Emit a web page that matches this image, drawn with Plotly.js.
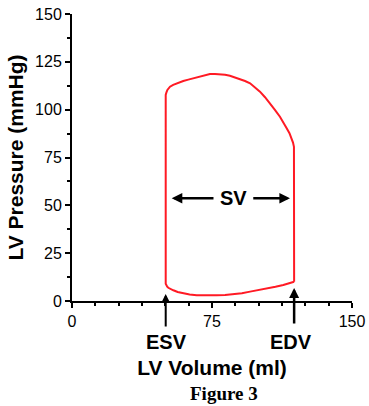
<!DOCTYPE html>
<html>
<head>
<meta charset="utf-8">
<script src="https://cdn.plot.ly/plotly-3.0.1.min.js"></script>
<style>html,body{margin:0;padding:0;background:#fff;}#chart{width:369px;height:406px;}</style>
</head>
<body>
<div id="chart"></div>
<script>
// LV pressure-volume loop
const volume = [119, 119, 118.9, 118.4, 117.7, 116.5, 115.0, 113.3, 111.4, 108.8, 106.1, 103.4, 100.7, 98.0, 95.4, 92.7, 90.0, 87.3, 84.6, 82.0, 79.3, 76.6, 73.9, 72.1, 70.3, 67.6, 65.0, 62.3, 59.6, 57.8, 56.1, 54.2, 52.5, 51.6, 51.1, 50.6, 50.2,
                50.2, 50.5, 51.0, 51.6, 52.8, 54.3, 56.6, 59.6, 63.0, 66.8, 72.0, 77.5, 82.0, 86.4, 91.0, 95.4, 100.0, 104.3, 109.0, 113.2, 116.5, 119];
const pressure = [10.1, 78.0, 80.6, 82.8, 85.0, 87.7, 90.3, 93.2, 96.3, 99.8, 103.3, 106.5, 109.4, 111.8, 113.8, 115.0, 115.9, 116.9, 117.7, 118.2, 118.6, 118.7, 118.6, 118.2, 117.7, 117.1, 116.4, 115.7, 115.0, 114.4, 113.8, 113.0, 112.0, 111.2, 110.3, 109.1, 107.7,
                  9.0, 8.1, 7.5, 6.9, 6.2, 5.6, 4.7, 4.0, 3.4, 3.0, 2.9, 3.0, 3.2, 3.5, 4.1, 4.9, 5.7, 6.6, 7.5, 8.4, 9.2, 10.1];
const esv = 50.2;
const edv = 119;
const svLevel = 53.7;
const yTicks = [0, 25, 50, 75, 100, 125, 150];
const xTicks = [0, 75, 150];
const xTitle = 'LV Volume (ml)';
const yTitle = 'LV Pressure (mmHg)';
const caption = 'Figure 3';

const sans = 'Liberation Sans, Arial, sans-serif';
const trace = {
  x: volume, y: pressure, type: 'scatter', mode: 'lines',
  line: {color: '#ff1a24', width: 2},
  hoverinfo: 'skip', showlegend: false
};

const arrowCommon = {showarrow: true, arrowhead: 2, arrowcolor: '#000', text: ''};
const layout = {
  width: 369, height: 406,
  margin: {l: 72, r: 17, t: 14, b: 105},
  paper_bgcolor: '#fff', plot_bgcolor: '#fff',
  font: {family: sans, color: '#000', size: 16},
  xaxis: {
    range: [0, 150], tickvals: xTicks, ticktext: xTicks.map(String),
    showgrid: false, zeroline: false, showline: true, linecolor: '#000', linewidth: 2,
    ticks: 'outside', ticklen: 5, tickwidth: 2, tickcolor: '#000',
    minor: {tickvals: [12.5, 25, 37.5, 50, 62.5, 87.5, 100, 112.5, 125, 137.5], ticks: 'outside', ticklen: 3, tickwidth: 2, tickcolor: '#000', showgrid: false},
    tickfont: {size: 16, family: sans},
    title: {text: xTitle, font: {size: 21, family: sans, weight: 'bold'}, standoff: 31},
    automargin: false, fixedrange: true
  },
  yaxis: {
    range: [0, 150], tickvals: yTicks, ticktext: yTicks.map(String),
    showgrid: false, zeroline: false, showline: true, linecolor: '#000', linewidth: 2,
    ticks: 'outside', ticklen: 5, tickwidth: 2, tickcolor: '#000',
    minor: {tickvals: [12.5, 37.5, 62.5, 87.5, 112.5, 137.5], ticks: 'outside', ticklen: 3, tickwidth: 2, tickcolor: '#000', showgrid: false},
    tickfont: {size: 16, family: sans},
    title: {text: yTitle, font: {size: 21, family: sans, weight: 'bold'}, standoff: 6},
    automargin: false, fixedrange: true
  },
  annotations: [
    // ESV / EDV arrows pointing up at the axis
    Object.assign({}, arrowCommon, {x: esv, y: 3.7, xref: 'x', yref: 'y', ax: 0, ay: 34, arrowwidth: 2, arrowsize: 0.9}),
    Object.assign({}, arrowCommon, {x: edv, y: 6.8, xref: 'x', yref: 'y', ax: 0, ay: 37, arrowwidth: 2.5, arrowsize: 0.8}),
    // SV double arrow
    Object.assign({}, arrowCommon, {x: 53.4, y: svLevel, xref: 'x', yref: 'y', ax: 76.6, ay: svLevel, axref: 'x', ayref: 'y', arrowwidth: 2.5, arrowsize: 0.85}),
    Object.assign({}, arrowCommon, {x: 116.8, y: svLevel, xref: 'x', yref: 'y', ax: 96.3, ay: svLevel, axref: 'x', ayref: 'y', arrowwidth: 2.5, arrowsize: 0.85}),
    {x: 86.3, y: svLevel, xref: 'x', yref: 'y', text: 'SV', showarrow: false, font: {size: 20, family: sans, weight: 'bold'}},
    {x: 50.4, y: -0.143, xref: 'x', yref: 'paper', text: 'ESV', showarrow: false, yanchor: 'middle', font: {size: 20, family: sans, weight: 'bold'}},
    {x: 117.3, y: -0.143, xref: 'x', yref: 'paper', text: 'EDV', showarrow: false, yanchor: 'middle', font: {size: 20, family: sans, weight: 'bold'}},
    {x: 0.5446, y: -0.3206, xref: 'paper', yref: 'paper', text: caption, showarrow: false, yanchor: 'middle', font: {size: 19, family: 'Liberation Serif, Times New Roman, serif', weight: 'bold'}}
  ]
};
Plotly.newPlot('chart', [trace], layout, {staticPlot: true, displayModeBar: false});
</script>
</body>
</html>
